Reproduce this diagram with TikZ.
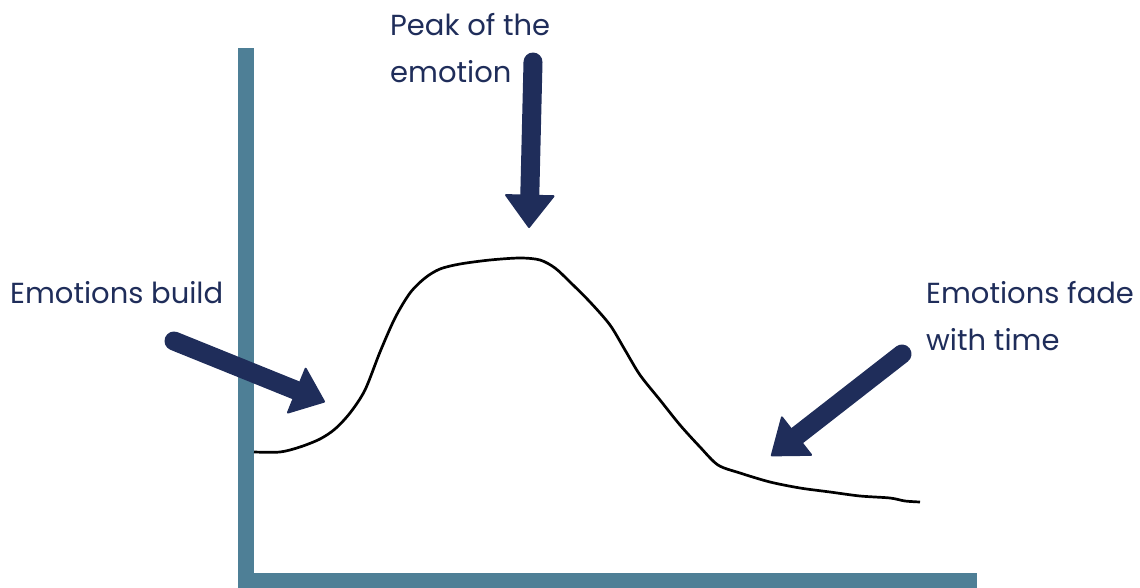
\documentclass[tikz,border=0pt]{standalone}
\usepackage{fontspec}
\setmainfont{Poppins}
\usetikzlibrary{arrows.meta}
\definecolor{axiscol}{HTML}{4E7F96}
\definecolor{navy}{HTML}{1F2D5A}
\tikzset{
  bigarrow/.style={draw=navy, line width=19pt, line cap=round,
    -{Triangle[length=#1, width=51pt, line width=2pt, round]}},
  label/.style={text=navy, font=\fontsize{29}{35}\selectfont, inner sep=0pt, anchor=base west},
  axisbar/.style={fill=axiscol, draw=none},
  curve/.style={draw=black, line width=2.7pt, line join=round}
}
\begin{document}
\begin{tikzpicture}[x=1pt,y=-1pt]
\useasboundingbox (0,0) rectangle (1140,588);
% axes
\fill[axisbar] (238,48) rectangle (254,588);
\fill[axisbar] (238,573) rectangle (977,588);
% curve
\draw[curve] plot[smooth, tension=0.5] coordinates {
(254,452) (280,452) (300,447) (320,439) (335,429) (350,413) (365,390) (380,352)
(395,318) (410,293) (425,278) (440,269) (460,264) (490,260) (520,258) (540,260)
(555,268) (570,282) (590,302) (610,325) (625,350) (640,375) (660,400) (680,425)
(700,447) (718,465) (740,473) (770,482) (800,488) (830,492) (860,496) (890,498)
(905,501) (920,502)};
% labels
\node[label] (peak1) at (390,36) {Peak of the};
\node[label] (peak2) at (390,83) {emotion};
\node[label] (build) at (10,303) {Emotions build};
\node[label] (fade1) at (926,303) {Emotions fade};
\node[label] (fade2) at (926,350) {with time};
% arrows
\coordinate (pS) at (533,62);
\coordinate (pE) at (529,228);
\coordinate (bS) at (174,341);
\coordinate (bE) at (325,402);
\coordinate (fS) at (902,354);
\coordinate (fE) at (771,456);
\draw[bigarrow=34pt] (pS) -- (pE);
\draw[bigarrow=32pt] (bS) -- (bE);
\draw[bigarrow=34pt] (fS) -- (fE);
\end{tikzpicture}
\end{document}
